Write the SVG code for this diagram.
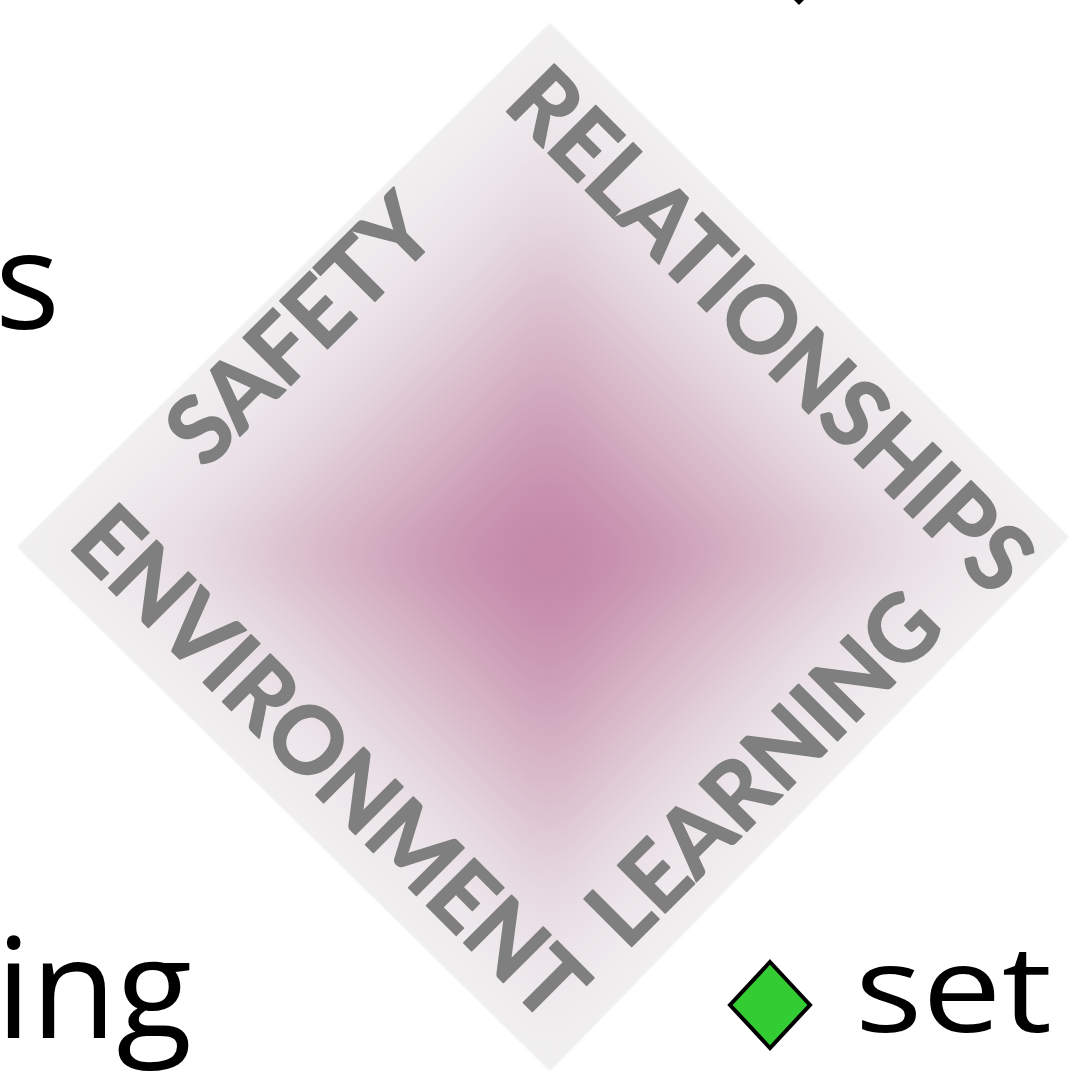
<svg xmlns="http://www.w3.org/2000/svg" width="1069" height="1072" viewBox="0 0 1069 1072">
  <style>
    .lbl { font-family: Lato, "Liberation Sans", sans-serif; font-weight: 700; font-size: 93px; fill: #7f7f7f; stroke: #7f7f7f; stroke-width: 1.8px; stroke-linejoin: round; }
    .blk { font-family: "Open Sans", "Liberation Sans", sans-serif; font-weight: 400; fill: #000000; }
  </style>
  <defs>
    <clipPath id="dclip"><polygon points="550,23 1069,537 550,1071 17,547"/></clipPath>
    <filter id="blur" x="-20%" y="-20%" width="140%" height="140%"><feGaussianBlur stdDeviation="22"/></filter>
    <filter id="soft" x="-5%" y="-5%" width="110%" height="110%"><feGaussianBlur stdDeviation="1.2"/></filter>
    <linearGradient id="gUL" gradientUnits="userSpaceOnUse" x1="548" y1="558" x2="281.6" y2="287">
      <stop offset="0" stop-color="#c283a5"/><stop offset="0.2" stop-color="#c995b1"/><stop offset="0.42" stop-color="#d6b5c6"/><stop offset="0.7" stop-color="#e7dce2"/><stop offset="0.88" stop-color="#efeaed"/><stop offset="1" stop-color="#f1f0f1"/>
    </linearGradient>
    <linearGradient id="gUR" gradientUnits="userSpaceOnUse" x1="548" y1="558" x2="816.5" y2="287">
      <stop offset="0" stop-color="#c283a5"/><stop offset="0.2" stop-color="#c995b1"/><stop offset="0.42" stop-color="#d6b5c6"/><stop offset="0.7" stop-color="#e7dce2"/><stop offset="0.88" stop-color="#efeaed"/><stop offset="1" stop-color="#f1f0f1"/>
    </linearGradient>
    <linearGradient id="gLR" gradientUnits="userSpaceOnUse" x1="548" y1="558" x2="805.4" y2="808.2">
      <stop offset="0" stop-color="#c283a5"/><stop offset="0.2" stop-color="#c995b1"/><stop offset="0.42" stop-color="#d6b5c6"/><stop offset="0.7" stop-color="#e7dce2"/><stop offset="0.88" stop-color="#efeaed"/><stop offset="1" stop-color="#f1f0f1"/>
    </linearGradient>
    <linearGradient id="gLL" gradientUnits="userSpaceOnUse" x1="548" y1="558" x2="292.6" y2="817.9">
      <stop offset="0" stop-color="#c283a5"/><stop offset="0.2" stop-color="#c995b1"/><stop offset="0.42" stop-color="#d6b5c6"/><stop offset="0.7" stop-color="#e7dce2"/><stop offset="0.88" stop-color="#efeaed"/><stop offset="1" stop-color="#f1f0f1"/>
    </linearGradient>
  </defs>
  <rect width="1069" height="1072" fill="#ffffff"/>

  <g id="diamond">
    <polygon points="550,23 1069,537 550,1071 17,547" fill="#f1f0f1" filter="url(#soft)"/>
    <g clip-path="url(#dclip)">
      <g filter="url(#blur)">
        <polygon points="548,558 17,547 550,23" fill="url(#gUL)"/>
        <polygon points="548,558 550,23 1069,537" fill="url(#gUR)"/>
        <polygon points="548,558 1069,537 550,1071" fill="url(#gLR)"/>
        <polygon points="548,558 550,1071 17,547" fill="url(#gLL)"/>
      </g>
    </g>
  </g>

  <g id="label-relationships">
    <text class="lbl" transform="translate(501.5,106.5) rotate(45)" textLength="696" lengthAdjust="spacingAndGlyphs">RELATIONSHIPS</text>
  </g>
  <g id="label-safety">
    <text class="lbl" transform="translate(205.5,470.5) rotate(-45)" textLength="333" lengthAdjust="spacingAndGlyphs">SAFETY</text>
  </g>
  <g id="label-environment">
    <text class="lbl" transform="translate(66.5,545.5) rotate(45)" textLength="680" lengthAdjust="spacingAndGlyphs">ENVIRONMENT</text>
  </g>
  <g id="label-learning">
    <text class="lbl" transform="translate(626.5,951.5) rotate(-45)" textLength="454" lengthAdjust="spacingAndGlyphs">LEARNING</text>
  </g>

  <g id="side-texts">
    <text class="blk" x="-5" y="329" font-size="136">s</text>
    <text class="blk" x="-4" y="1038" font-size="140" textLength="196" lengthAdjust="spacingAndGlyphs">ing</text>
    <text class="blk" x="855" y="1032" font-size="121" textLength="197" lengthAdjust="spacingAndGlyphs">set</text>
  </g>

  <g id="bullet-green">
    <polygon points="770,962 810,1005 770,1048 730,1005" fill="#33cc33" stroke="#000000" stroke-width="4" stroke-linejoin="miter"/>
  </g>
  <g id="bullet-top">
    <polygon points="794,0 804,0 799,5" fill="#000000"/>
  </g>
</svg>
